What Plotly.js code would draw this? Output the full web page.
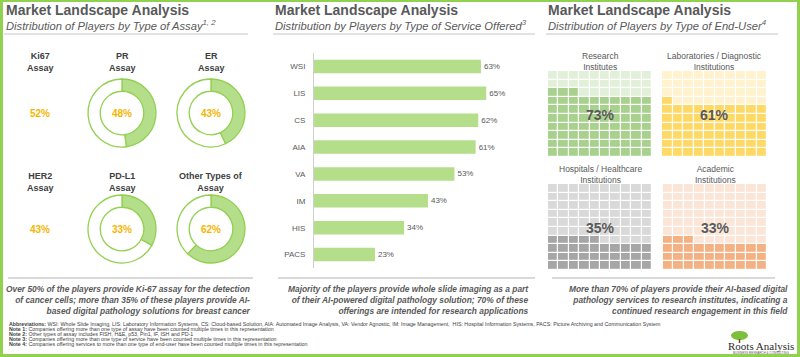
<!DOCTYPE html>
<html><head><meta charset="utf-8">
<script src="https://cdn.plot.ly/plotly-3.0.1.min.js"></script>
<style>html,body{margin:0;padding:0;background:#fff}#chart{width:800px;height:357px}</style>
</head><body><div id="chart"></div>
<script>
// ---- Data ----
const assayLabels = ['Ki67<br>Assay','PR<br>Assay','ER<br>Assay','HER2<br>Assay','PD-L1<br>Assay','Other Types of<br>Assay'];
const assayValues = [52, 48, 43, 43, 33, 62];
const assayHasDonut = [false, true, true, false, true, true];

const serviceCategories = ['WSI','LIS','CS','AIA','VA','IM','HIS','PACS'];
const serviceValues = [63, 65, 62, 61, 53, 43, 34, 23];

const endUserLabels = ['Research<br>Institutes','Laboratories / Diagnostic<br>Institutions','Hospitals / Healthcare<br>Institutions','Academic<br>Institutions'];
const endUserValues = [73, 61, 35, 33];

const titles = ['Market Landscape Analysis','Market Landscape Analysis','Market Landscape Analysis'];
const subtitles = ['Distribution of Players by Type of Assay<sup>1, 2</sup>',
                   'Distribution by Players by Type of Service Offered<sup>3</sup>',
                   'Distribution of Players by Type of End-User<sup>4</sup>'];
const captions = [
  'Over 50% of the players provide Ki-67 assay for the detection<br>of cancer cells; more than 35% of these players provide AI-<br>based digital pathology solutions for breast cancer',
  'Majority of the players provide whole slide imaging as a part<br>of their AI-powered digital pathology solution; 70% of these<br>offerings are intended for research applications',
  'More than 70% of players provide their AI-based digital<br>pathology services to research institutes, indicating a<br>continued research engagement in this field'];
const footnotes = [
  '<b>Abbreviations:</b> WSI: Whole Slide Imaging, LIS: Laboratory Information Systems, CS: Cloud-based Solution, AIA: Automated Image Analysis, VA: Vendor Agnostic, IM: Image Management,  HIS: Hospital Information Systems, PACS: Picture Archiving and Communication System',
  '<b>Note 1:</b> Companies offering more than one type of assay have been counted multiple times in this representation',
  '<b>Note 2:</b> Other types of assay includes FISH, H&amp;E, p53, Pin1, IF, ISH and PD-1',
  '<b>Note 3:</b> Companies offering more than one type of service have been counted multiple times in this representation',
  '<b>Note 4:</b> Companies offering services to more than one type of end-user have been counted multiple times in this representation'];

// ---- Layout helpers ----
const W = 800, H = 357;
const px = x => x / W, py = y => 1 - y / H;
const FONT = 'Liberation Sans, Arial, sans-serif';
const GRAY = '#595959';
function f(size, color, weight, style) {
  return {family:FONT, size, color, weight:weight || 'normal', style:style || 'normal'};
}
function ann(x, y, text, o) {
  return Object.assign({xref:'paper', yref:'paper', x:px(x), y:py(y), text, showarrow:false,
    xanchor:'center', yanchor:'middle', font:f(9, GRAY)}, o || {});
}
function line(x0, y0, x1, y1, color, width) {
  return {type:'line', xref:'paper', yref:'paper', x0:px(x0), y0:py(y0), x1:px(x1), y1:py(y1),
    line:{color, width}};
}

const traces = [];
const annotations = [];
const shapes = [];

// ---- Panel 1: donuts ----
const donutCX = [40, 122, 211], donutCY = [113, 229], labelCY = [62, 182], R = 34;
assayValues.forEach((v, i) => {
  const cx = donutCX[i % 3], cy = donutCY[Math.floor(i / 3)];
  if (assayHasDonut[i]) {
    traces.push({type:'pie', values:[v, 100 - v], sort:false, direction:'clockwise', rotation:0,
      hole:0.64, textinfo:'none', hoverinfo:'skip',
      marker:{colors:['#b4de8a', '#ffffff'], line:{color:'#92d050', width:1.3}},
      domain:{x:[px(cx - R), px(cx + R)], y:[py(cy + R), py(cy - R)]}, showlegend:false});
  }
  annotations.push(ann(cx, cy, v + '%', {font:f(10, '#f7b500', 'bold')}));
  annotations.push(ann(cx, labelCY[Math.floor(i / 3)], assayLabels[i], {font:f(9, '#404040', 'bold')}));
});

// ---- Panel 2: bars ----
traces.push({type:'bar', orientation:'h', x:serviceValues, y:serviceCategories,
  marker:{color:'#b4de8a'}, text:serviceValues.map(v => v + '%'), textposition:'outside',
  textfont:f(8, GRAY), cliponaxis:false, hoverinfo:'skip',
  xaxis:'x', yaxis:'y'});

// ---- Panel 3: waffles ----
const waffleBoxes = [[548, 652, 71, 157], [662, 767, 71, 157], [548, 652, 184, 270], [663, 767, 184, 270]];
const waffleColors = [['#e2f0d9', '#a9d18e'], ['#fff2cc', '#ffd966'], ['#d9d9d9', '#a6a6a6'], ['#fbe5d6', '#f4b183']];
const waffleLabelY = [61, 61, 174, 174];
const layoutAxes = {};
endUserValues.forEach((v, k) => {
  const z = [];
  for (let r = 0; r < 10; r++) {
    const row = [];
    for (let c = 0; c < 10; c++) row.push(r * 10 + c < v ? 1 : 0);
    z.push(row);
  }
  const n = k + 2;
  traces.push({type:'heatmap', z, zmin:0, zmax:1, showscale:false, xgap:1.2, ygap:1.2,
    colorscale:[[0, waffleColors[k][0]], [1, waffleColors[k][1]]], hoverinfo:'skip',
    xaxis:'x' + n, yaxis:'y' + n});
  const [x0, x1, y0, y1] = waffleBoxes[k];
  const hidden = {showgrid:false, zeroline:false, showticklabels:false, ticks:'', fixedrange:true};
  layoutAxes['xaxis' + n] = Object.assign({domain:[px(x0), px(x1)], anchor:'y' + n}, hidden);
  layoutAxes['yaxis' + n] = Object.assign({domain:[py(y1), py(y0)], anchor:'x' + n}, hidden);
  annotations.push(ann((x0 + x1) / 2, (y0 + y1) / 2 + 1, v + '%', {font:f(14, GRAY, 'bold')}));
  annotations.push(ann((x0 + x1) / 2, waffleLabelY[k], endUserLabels[k], {font:f(8.5, GRAY)}));
});

// ---- Headers, captions ----
const headerX = [4, 273, 546];
const underline = [[4, 248], [273, 535], [546, 778]];
const capSep = [[8, 253], [278, 535], [552, 775]];
const capRight = [253, 531, 790];
for (let p = 0; p < 3; p++) {
  annotations.push(ann(headerX[p], 10, titles[p], {xanchor:'left', font:f(14, GRAY, 'bold')}));
  annotations.push(ann(headerX[p], 25, subtitles[p], {xanchor:'left', font:f(11.2, GRAY, 'normal', 'italic')}));
  shapes.push(line(underline[p][0], 34, underline[p][1], 34, '#d9d9d9', 1.5));
  shapes.push(line(capSep[p][0], 278, capSep[p][1], 278, '#d9d9d9', 2));
  annotations.push(ann(capRight[p], 300, captions[p],
    {xanchor:'right', align:'right', font:f(8.4, GRAY, 'bold', 'italic')}));
}

// ---- Footnotes ----
footnotes.forEach((t, i) => {
  annotations.push(ann(7, 323.5 + i * 5, t, {xanchor:'left', font:f(5.3, '#404040')}));
});

// ---- Logo ----
shapes.push({type:'circle', xref:'paper', yref:'paper', x0:px(731), x1:px(748), y0:py(340), y1:py(331),
  fillcolor:'#7cbf3a', line:{width:0}});
shapes.push(line(739.5, 339, 739.5, 343, '#6b4b2a', 1.5));
annotations.push(ann(761, 346, 'Roots Analysis', {font:{family:'Liberation Serif, serif', size:11, color:'#2b2b2b'}}));
annotations.push(ann(761, 353, 'BUSINESS RESEARCH &amp; CONSULTING', {font:f(3, '#555')}));

// ---- Border ----
shapes.push({type:'rect', xref:'paper', yref:'paper', x0:px(1.5), x1:px(798.5), y0:py(355.5), y1:py(0.5),
  line:{color:'#92d050', width:3}});

const layout = Object.assign({
  width:W, height:H, margin:{l:0, r:0, t:0, b:0}, paper_bgcolor:'#fff', plot_bgcolor:'#fff',
  showlegend:false, bargap:0.5,
  xaxis:{domain:[px(314), px(526)], range:[0, 80], visible:false, fixedrange:true},
  yaxis:{domain:[py(268), py(53)], autorange:'reversed', categoryorder:'array', categoryarray:serviceCategories,
    showline:true, linecolor:'#d0d0d0', linewidth:1, ticks:'', ticklabelstandoff:6,
    tickfont:f(8, GRAY), showgrid:false, zeroline:false, fixedrange:true},
  annotations, shapes
}, layoutAxes);

Plotly.newPlot('chart', traces, layout, {staticPlot:true, displayModeBar:false});
</script>
</body></html>
